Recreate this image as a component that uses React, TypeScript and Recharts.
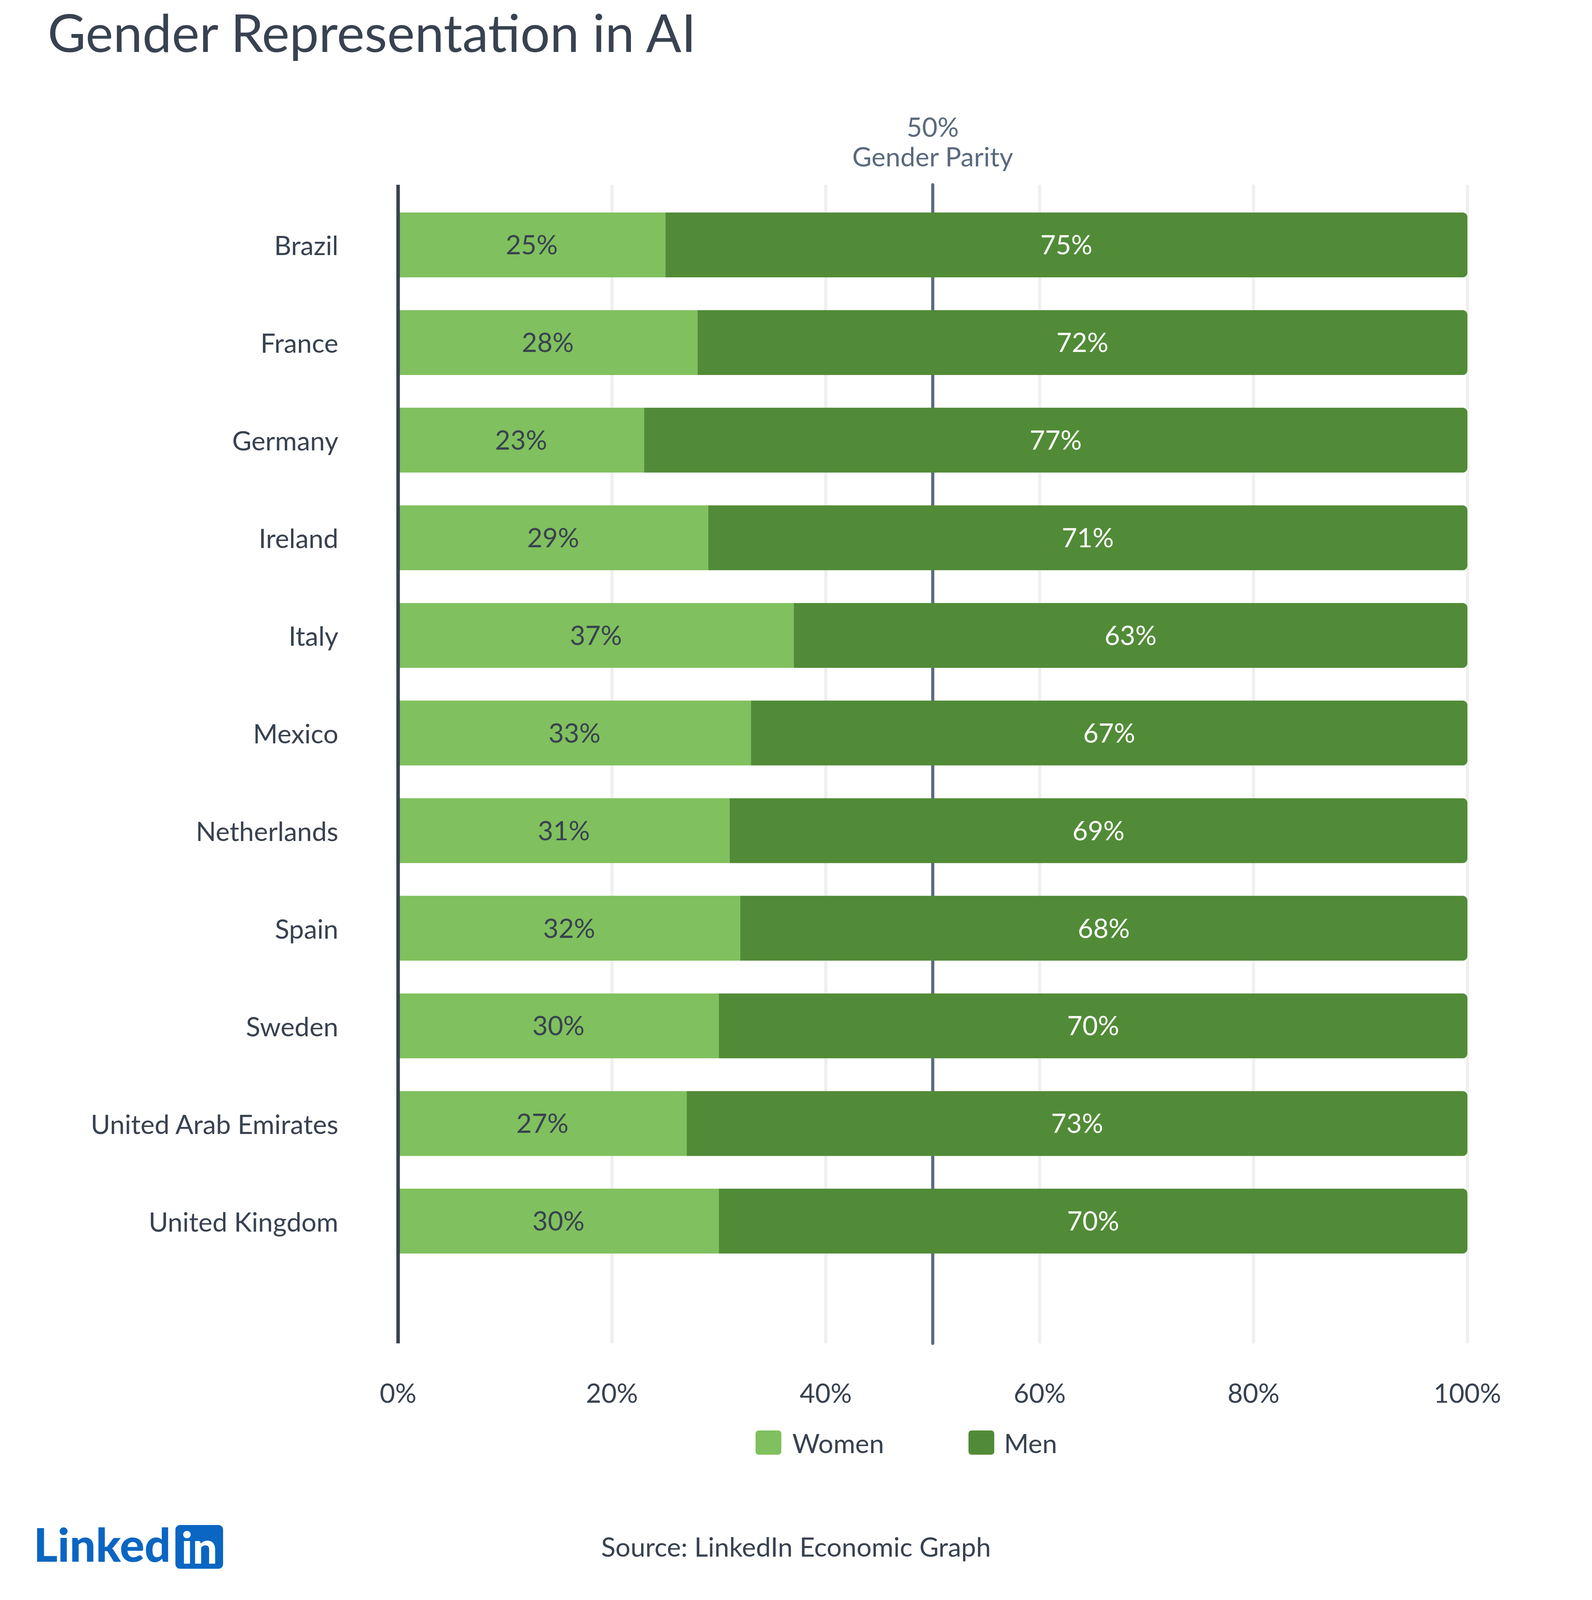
import React from 'react';
import { BarChart, Bar, XAxis, YAxis, CartesianGrid, ReferenceLine, LabelList } from 'recharts';

const countries = [
  'Brazil',
  'France',
  'Germany',
  'Ireland',
  'Italy',
  'Mexico',
  'Netherlands',
  'Spain',
  'Sweden',
  'United Arab Emirates',
  'United Kingdom',
];
const women = [25, 28, 23, 29, 37, 33, 31, 32, 30, 27, 30];
const men = [75, 72, 77, 71, 63, 67, 69, 68, 70, 73, 70];
const xTicks = [0, 20, 40, 60, 80, 100];
const parity = 50;

const data = countries.map((country, i) => ({ country, women: women[i], men: men[i] }));

const FONT = 'Lato, "Noto Sans", sans-serif';
const TEXT = '#384250';
const LIGHT = '#80c05e';
const DARK = '#518b37';
const SLATE = '#5a6a7e';

// the browser viewport is only 4096px tall, so the layout is squeezed to fit it
const W = 4075;
const H = 4096;

function CountryTick(props: any) {
  const { x, y, payload } = props;
  return (
    <text x={x} y={y} textAnchor="end" dominantBaseline="central" fill={TEXT} fontSize={68} fontFamily={FONT}>
      {payload.value}
    </text>
  );
}

function PctTick(props: any) {
  const { x, y, payload } = props;
  return (
    <text x={x} y={y + 123} textAnchor="middle" dominantBaseline="central" fill={TEXT} fontSize={68} fontFamily={FONT}>
      {`${payload.value}%`}
    </text>
  );
}

function ParityLabel(props: any) {
  const vb = props.viewBox || {};
  const cx = vb.x ?? 0;
  const top = vb.y ?? 0;
  return (
    <g>
      <text x={cx} y={top - 150} textAnchor="middle" dominantBaseline="central" fill={SLATE} fontSize={68} fontFamily={FONT}>
        {`${parity}%`}
      </text>
      <text x={cx} y={top - 74} textAnchor="middle" dominantBaseline="central" fill={SLATE} fontSize={68} fontFamily={FONT}>
        Gender Parity
      </text>
    </g>
  );
}

export default function App() {
  return (
    <div style={{ position: 'relative', margin: -8, width: W, height: H, background: '#fff', fontFamily: FONT, overflow: 'hidden' }}>
      <div style={{ position: 'absolute', left: 122, top: 2, fontSize: 134, lineHeight: 1.2, color: TEXT, whiteSpace: 'nowrap' }}>
        Gender Representation in AI
      </div>

      <div style={{ position: 'absolute', left: 0, top: 0 }}>
        <BarChart
          width={W}
          height={H}
          data={data}
          layout="vertical"
          margin={{ top: 473, right: 319, bottom: 507, left: 0 }}
          barSize={166}
        >
          <CartesianGrid horizontal={false} stroke="#efefef" strokeWidth={8} />
          <XAxis
            type="number"
            domain={[0, 100]}
            ticks={xTicks}
            axisLine={false}
            tickLine={false}
            tickSize={0}
            height={150}
            tick={<PctTick />}
          />
          <YAxis
            type="category"
            dataKey="country"
            width={1019}
            padding={{ top: 29, bottom: 188 }}
            axisLine={{ stroke: '#384250', strokeWidth: 9 }}
            tickLine={false}
            tickSize={0}
            tickMargin={153}
            tick={<CountryTick />}
          />
          <ReferenceLine
            x={parity}
            stroke={SLATE}
            strokeWidth={8}
            strokeLinecap="round"
            zIndex={250}
            label={<ParityLabel />}
          />
          <Bar dataKey="women" stackId="a" fill={LIGHT} isAnimationActive={false}>
            <LabelList
              dataKey="women"
              position="center"
              formatter={(v: any) => `${v}%`}
              fill={TEXT}
              fontSize={68}
              fontFamily={FONT}
            />
          </Bar>
          <Bar dataKey="men" stackId="a" fill={DARK} radius={[0, 12, 12, 0]} isAnimationActive={false}>
            <LabelList
              dataKey="men"
              position="center"
              formatter={(v: any) => `${v}%`}
              fill="#ffffff"
              fontSize={68}
              fontFamily={FONT}
            />
          </Bar>
        </BarChart>
      </div>

      {/* legend */}
      <div style={{ position: 'absolute', top: 3661, left: 1934, display: 'flex', alignItems: 'center', height: 64, fontSize: 68, color: TEXT }}>
        <span style={{ width: 66, height: 62, background: LIGHT, borderRadius: 8, display: 'inline-block' }} />
        <span style={{ marginLeft: 28, width: 451 }}>Women</span>
        <span style={{ width: 66, height: 62, background: DARK, borderRadius: 8, display: 'inline-block' }} />
        <span style={{ marginLeft: 25 }}>Men</span>
      </div>

      <div style={{ position: 'absolute', top: 3925, left: 0, width: W, textAlign: 'center', fontSize: 68, lineHeight: 1, color: TEXT }}>
        Source: LinkedIn Economic Graph
      </div>

      {/* logo */}
      <div style={{ position: 'absolute', left: 86, top: 3904, height: 112, display: 'flex', alignItems: 'flex-end' }}>
        <span style={{ fontSize: 118, fontWeight: 900, color: '#0a66c2', lineHeight: 1, letterSpacing: 0, position: 'relative', top: -4 }}>Linked</span>
        <span
          style={{
            marginLeft: 12,
            width: 122,
            height: 112,
            background: '#0a66c2',
            borderRadius: 12,
            color: '#fff',
            fontSize: 112,
            fontWeight: 900,
            lineHeight: '112px',
            textAlign: 'center',
            display: 'inline-block',
          }}
        >
          in
        </span>
      </div>
    </div>
  );
}
